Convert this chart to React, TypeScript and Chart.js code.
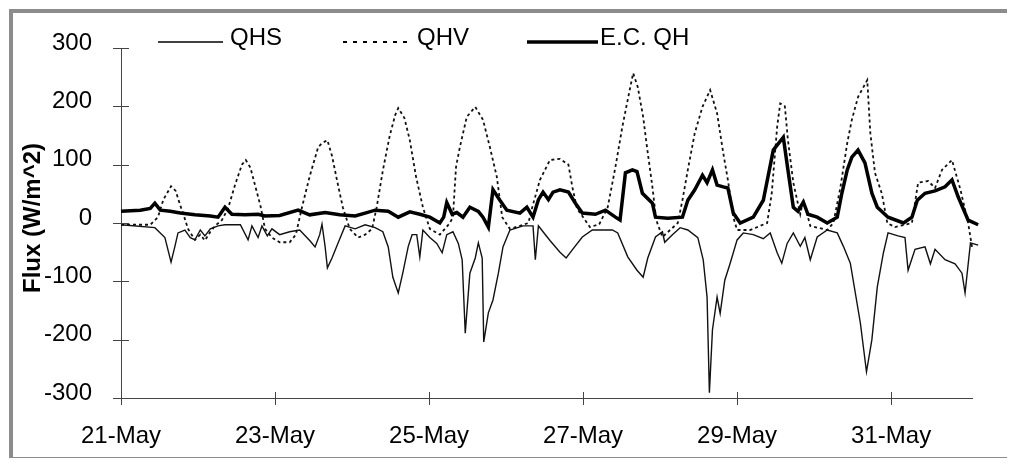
import React, { useEffect, useRef } from "react";
import { Chart, registerables } from "chart.js";

Chart.register(...registerables);

const FONT = '"Liberation Sans", Arial, Helvetica, sans-serif';

// ---- axis / labels ----
const xTickValues = [0, 2, 4, 6, 8, 10]; // days after 21-May 00:00
const xTickLabels = ["21-May", "23-May", "25-May", "27-May", "29-May", "31-May"];
const yTickValues = [-300, -200, -100, 0, 100, 200, 300];
const yAxisTitle = "Flux (W/m^2)";
const seriesNames = ["QHS", "QHV", "E.C. QH"];

// ---- QHS (thin solid) ----
const qhsDays = [0.0, 0.44, 0.57, 0.65, 0.7, 0.74, 0.83, 0.9, 0.96, 1.03, 1.09, 1.16, 1.26, 1.35, 1.55, 1.65, 1.7, 1.78, 1.83, 1.9, 1.96, 2.06, 2.19, 2.32, 2.45, 2.52, 2.58, 2.61, 2.65, 2.68, 2.74, 2.82, 2.91, 3.04, 3.17, 3.3, 3.4, 3.47, 3.53, 3.6, 3.66, 3.73, 3.78, 3.84, 3.88, 3.92, 4.01, 4.1, 4.17, 4.23, 4.31, 4.38, 4.43, 4.47, 4.53, 4.6, 4.64, 4.69, 4.71, 4.77, 4.83, 4.9, 4.96, 5.05, 5.22, 5.35, 5.38, 5.42, 5.48, 5.57, 5.7, 5.78, 5.86, 5.99, 6.12, 6.38, 6.45, 6.58, 6.7, 6.78, 6.84, 6.94, 7.03, 7.06, 7.16, 7.26, 7.36, 7.49, 7.56, 7.61, 7.64, 7.68, 7.74, 7.78, 7.84, 7.91, 8.0, 8.08, 8.21, 8.34, 8.43, 8.52, 8.58, 8.65, 8.73, 8.82, 8.88, 8.95, 9.04, 9.17, 9.3, 9.38, 9.47, 9.6, 9.68, 9.75, 9.82, 9.9, 9.96, 10.09, 10.18, 10.22, 10.31, 10.44, 10.51, 10.57, 10.7, 10.83, 10.92, 10.96, 11.03, 11.13, 11.18];
const qhsFlux = [-3, -8, -25, -67, -40, -17, -12, -25, -29, -12, -22, -10, -5, -3, -3, -29, -5, -25, -5, -22, -10, -20, -15, -12, -30, -41, -20, -2, -40, -77, -60, -34, -5, -10, -3, -8, -15, -41, -93, -120, -85, -40, -20, -20, -58, -12, -25, -35, -51, -20, -15, -35, -63, -189, -86, -60, -34, -60, -204, -154, -132, -86, -41, -12, -5, -5, -63, -5, -15, -30, -50, -60, -46, -24, -12, -12, -17, -58, -81, -93, -60, -24, -15, -33, -20, -8, -12, -25, -63, -127, -291, -183, -127, -155, -98, -69, -29, -17, -20, -27, -17, -51, -69, -35, -17, -40, -25, -63, -24, -12, -17, -40, -69, -171, -255, -200, -110, -51, -17, -22, -25, -81, -45, -41, -70, -45, -63, -70, -86, -120, -34, -38, -30];

// ---- QHV (dotted) ----
const qhvDays = [0.0, 0.38, 0.48, 0.55, 0.65, 0.71, 0.77, 0.81, 0.87, 0.96, 1.03, 1.09, 1.16, 1.22, 1.31, 1.39, 1.48, 1.57, 1.62, 1.68, 1.74, 1.81, 1.87, 1.96, 2.06, 2.19, 2.27, 2.35, 2.45, 2.56, 2.61, 2.68, 2.74, 2.81, 2.88, 2.97, 3.08, 3.17, 3.26, 3.32, 3.4, 3.49, 3.56, 3.6, 3.68, 3.75, 3.83, 3.92, 4.01, 4.14, 4.27, 4.31, 4.35, 4.4, 4.49, 4.6, 4.7, 4.79, 4.88, 4.95, 5.05, 5.18, 5.29, 5.34, 5.44, 5.57, 5.7, 5.81, 5.86, 5.92, 6.09, 6.21, 6.32, 6.42, 6.51, 6.57, 6.65, 6.71, 6.78, 6.83, 6.9, 6.95, 7.03, 7.13, 7.23, 7.29, 7.36, 7.45, 7.55, 7.65, 7.74, 7.82, 7.88, 7.95, 8.0, 8.17, 8.39, 8.45, 8.52, 8.56, 8.62, 8.66, 8.73, 8.82, 8.86, 8.95, 9.17, 9.25, 9.34, 9.43, 9.49, 9.57, 9.69, 9.73, 9.79, 9.88, 9.95, 10.05, 10.27, 10.35, 10.48, 10.57, 10.66, 10.79, 10.9, 11.0, 11.05, 11.13, 11.18];
const qhvFlux = [-3, -3, 10, 40, 63, 55, 30, 15, -10, -29, -20, -30, -15, -5, 5, 25, 65, 100, 108, 95, 65, 30, -10, -25, -33, -33, -20, 27, 80, 130, 137, 142, 115, 70, 27, -10, -25, -20, -10, 27, 90, 150, 185, 197, 180, 142, 80, 27, -10, -20, 0, 10, 96, 130, 182, 199, 177, 130, 79, 10, -10, -5, 0, 27, 74, 108, 110, 100, 62, 25, -7, -2, 27, 96, 165, 205, 257, 233, 182, 130, 62, 5, -24, -12, 0, 39, 91, 154, 199, 228, 188, 120, 74, 10, -12, -12, 0, 51, 165, 205, 200, 142, 69, 15, 40, -5, -12, 0, 60, 137, 177, 216, 245, 154, 86, 50, 0, -7, 0, 69, 72, 60, 91, 108, 57, 0, -41, -34, -30];

// ---- E.C. QH (thick solid) ----
const ecDays = [0.0, 0.25, 0.38, 0.44, 0.51, 0.64, 0.77, 0.96, 1.16, 1.26, 1.35, 1.44, 1.61, 1.78, 1.87, 2.06, 2.3, 2.45, 2.65, 2.84, 3.04, 3.17, 3.3, 3.47, 3.6, 3.75, 3.88, 4.01, 4.14, 4.19, 4.23, 4.3, 4.36, 4.44, 4.53, 4.64, 4.7, 4.77, 4.83, 4.92, 5.01, 5.18, 5.27, 5.35, 5.42, 5.48, 5.55, 5.61, 5.7, 5.81, 5.9, 5.99, 6.16, 6.29, 6.42, 6.48, 6.55, 6.64, 6.7, 6.77, 6.9, 6.94, 7.1, 7.29, 7.36, 7.45, 7.55, 7.61, 7.68, 7.74, 7.82, 7.88, 7.95, 8.04, 8.21, 8.34, 8.47, 8.6, 8.66, 8.73, 8.79, 8.86, 8.92, 9.04, 9.17, 9.3, 9.36, 9.43, 9.49, 9.57, 9.66, 9.75, 9.82, 9.96, 10.16, 10.27, 10.34, 10.44, 10.57, 10.7, 10.79, 10.87, 11.0, 11.13, 11.18];
const ecFlux = [20, 22, 25, 34, 22, 20, 17, 14, 12, 10, 27, 15, 14, 15, 12, 13, 22, 14, 18, 14, 12, 17, 22, 20, 10, 19, 15, 10, 0, 10, 35, 15, 18, 10, 27, 20, 10, -7, 57, 39, 22, 17, 27, 10, 40, 53, 40, 53, 57, 53, 34, 17, 15, 22, 10, 5, 86, 91, 88, 51, 34, 10, 8, 10, 39, 57, 82, 69, 91, 65, 62, 60, 17, 0, 10, 39, 125, 147, 91, 27, 20, 36, 15, 10, 0, 10, 51, 91, 113, 125, 103, 51, 27, 10, 0, 10, 39, 51, 55, 62, 74, 45, 5, -3, 0];

const toPoints = (xs: number[], ys: number[]) => xs.map((x, i) => ({ x, y: ys[i] }));

const legendItems = [
  { x0: 150, x1: 215, tx: 222, width: 1.5, dash: [] as number[] },
  { x0: 335, x1: 400, tx: 409, width: 2, dash: [4, 6] },
  { x0: 519, x1: 590, tx: 592, width: 3.5, dash: [] as number[] },
];

const decorPlugin = {
  id: "decor",
  afterDraw(chart: any) {
    const { ctx, chartArea, scales } = chart;
    const xs = scales.x;
    const ys = scales.y;
    ctx.save();
    // tick marks crossing the axes
    ctx.strokeStyle = "#444";
    ctx.lineWidth = 1;
    ctx.setLineDash([]);
    yTickValues.forEach((v) => {
      const py = Math.round(ys.getPixelForValue(v)) + 0.5;
      ctx.beginPath();
      ctx.moveTo(chartArea.left - 8, py);
      ctx.lineTo(chartArea.left + 8, py);
      ctx.stroke();
    });
    xTickValues.forEach((v) => {
      const px = Math.round(xs.getPixelForValue(v)) + 0.5;
      ctx.beginPath();
      ctx.moveTo(px, chartArea.bottom - 6);
      ctx.lineTo(px, chartArea.bottom + 7);
      ctx.stroke();
    });
    // legend
    ctx.strokeStyle = "#000";
    ctx.fillStyle = "#000";
    ctx.font = `24px ${FONT}`;
    ctx.textBaseline = "alphabetic";
    ctx.textAlign = "left";
    legendItems.forEach((it, i) => {
      ctx.beginPath();
      ctx.lineWidth = it.width;
      ctx.setLineDash(it.dash);
      ctx.moveTo(it.x0, 34);
      ctx.lineTo(it.x1, 34);
      ctx.stroke();
      ctx.setLineDash([]);
      ctx.fillText(chart.data.datasets[i].label, it.tx, 37);
    });
    // y axis title
    ctx.translate(25, 210);
    ctx.rotate(-Math.PI / 2);
    ctx.font = `bold 24px ${FONT}`;
    ctx.textAlign = "center";
    ctx.textBaseline = "middle";
    ctx.fillText(yAxisTitle, 0, 0);
    ctx.restore();
  },
};

export default function App() {
  const ref = useRef<HTMLCanvasElement | null>(null);

  useEffect(() => {
    if (!ref.current) return;
    const chart = new Chart(ref.current, {
      type: "line",
      data: {
        datasets: [
          {
            label: seriesNames[0],
            data: toPoints(qhsDays, qhsFlux),
            borderColor: "#111",
            borderWidth: 1.4,
            pointRadius: 0,
            tension: 0,
            clip: false as any,
            order: 2,
          },
          {
            label: seriesNames[1],
            data: toPoints(qhvDays, qhvFlux),
            borderColor: "#111",
            borderWidth: 1.8,
            borderDash: [3, 3],
            pointRadius: 0,
            tension: 0,
            clip: false as any,
            order: 3,
          },
          {
            label: seriesNames[2],
            data: toPoints(ecDays, ecFlux),
            borderColor: "#000",
            borderWidth: 3.5,
            pointRadius: 0,
            tension: 0,
            clip: false as any,
            order: 1,
          },
        ],
      },
      options: {
        animation: false,
        responsive: false,
        devicePixelRatio: 1,
        events: [],
        layout: { padding: { left: 0, top: 40, right: 36, bottom: 0 } },
        plugins: { legend: { display: false }, tooltip: { enabled: false }, title: { display: false } },
        scales: {
          x: {
            type: "linear",
            min: 0,
            max: 11.05,
            afterFit: (s: any) => {
              s.height = 60;
            },
            afterBuildTicks: (s: any) => {
              s.ticks = xTickValues.map((v) => ({ value: v }));
            },
            grid: { display: false },
            border: { display: true, color: "#444", width: 1 },
            ticks: {
              padding: 16,
              color: "#000",
              font: { family: FONT, size: 24 },
              maxRotation: 0,
              autoSkip: false,
              callback: (v: any) => {
                const i = xTickValues.indexOf(Number(v));
                return i >= 0 ? xTickLabels[i] : "";
              },
            },
          },
          y: {
            type: "linear",
            min: -300,
            max: 300,
            afterFit: (s: any) => {
              s.width = 113;
            },
            afterBuildTicks: (s: any) => {
              s.ticks = yTickValues.map((v) => ({ value: v }));
            },
            grid: { display: false },
            border: { display: true, color: "#444", width: 1 },
            ticks: {
              padding: 21,
              labelOffset: -5,
              color: "#000",
              font: { family: FONT, size: 24 },
              callback: (v: any) => String(v),
            },
          },
        },
      },
      plugins: [decorPlugin],
    });
    return () => chart.destroy();
  }, []);

  return (
    <div style={{ position: "relative", height: 450 }}>
      <div
        style={{
          position: "absolute",
          left: 1,
          top: 1,
          width: 1004,
          height: 452,
          boxSizing: "border-box",
          border: "4px solid #8c8c8c",
          background: "#fff",
        }}
      />
      <canvas ref={ref} width={1000} height={450} style={{ position: "absolute", left: 0, top: 0 }} />
    </div>
  );
}
